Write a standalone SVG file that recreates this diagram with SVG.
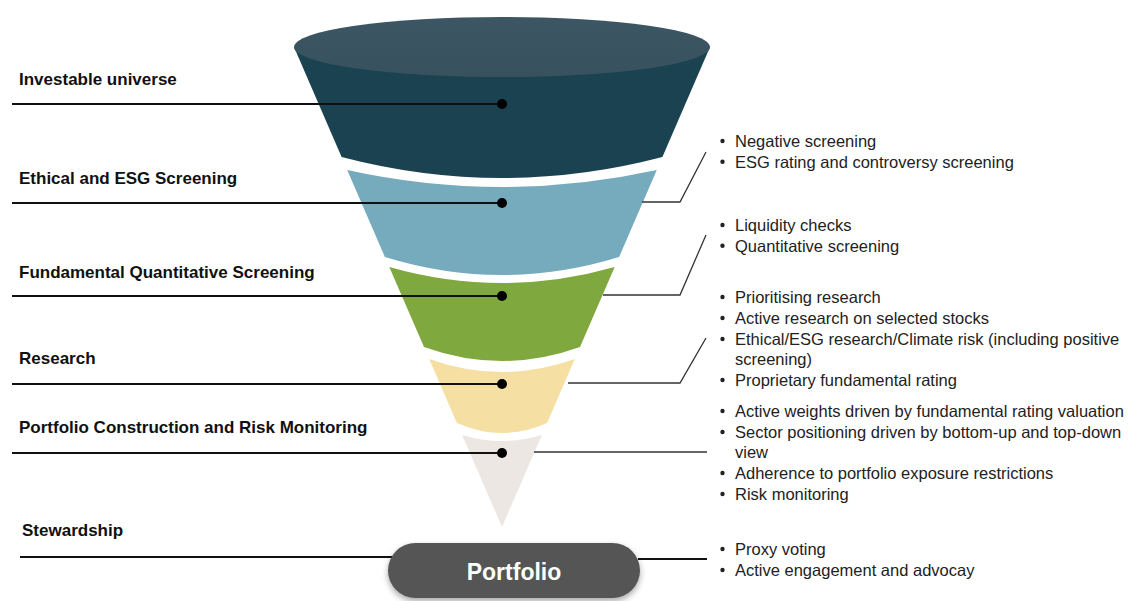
<svg xmlns="http://www.w3.org/2000/svg" width="1137" height="601" viewBox="0 0 1137 601">
<style>
.lbl{font-family:"Liberation Sans",Arial,sans-serif;font-weight:bold;font-size:17px;fill:#111}
.txt{font-family:"Liberation Sans",Arial,sans-serif;font-size:16.5px;fill:#222}
.ln{stroke:#111;stroke-width:2;fill:none}
.rl{stroke:#333;stroke-width:1.3;fill:none}
.dot{fill:#000}
.bul{fill:#222}
</style>
<defs>
<filter id="sh" x="-10%" y="-20%" width="120%" height="160%">
<feDropShadow dx="0" dy="3" stdDeviation="3" flood-color="#000" flood-opacity="0.35"/>
</filter>
<linearGradient id="cap" x1="0" y1="0" x2="0" y2="1">
<stop offset="0" stop-color="#3d5663"/>
<stop offset="1" stop-color="#37515e"/>
</linearGradient>
</defs>
<rect width="1137" height="601" fill="#fff"/>

<g id="funnel">
<g id="band-investable">
<path d="M294,47 L341.6,157 Q502,199 662.4,157 L710,47 Z" fill="#1b4250"/>
<ellipse cx="502" cy="47" rx="208" ry="30" fill="url(#cap)"/>
</g>
<g id="band-ethical">
<path d="M347.2,170 L384.9,257 Q502,293 619.1,257 L656.8,170 Q502,204 347.2,170 Z" fill="#75abbd"/>
</g>
<g id="band-fundamental">
<path d="M389.3,267 L424,347 Q502,375 580,347 L614.7,267 Q502,299 389.3,267 Z" fill="#7fa83e"/>
</g>
<g id="band-research">
<path d="M429.2,359 L456.9,423 Q502,443 547.1,423 L574.8,359 Q502,385 429.2,359 Z" fill="#f5dfa3"/>
</g>
<g id="band-portfolio-construction">
<path d="M462.1,435 L502,527 L541.9,435 Q502,447 462.1,435 Z" fill="#ede7e4"/>
</g>
</g>

<g id="connectors">
<line class="ln" x1="12" y1="104" x2="502" y2="104"/>
<line class="ln" x1="12" y1="203" x2="502" y2="203"/>
<line class="ln" x1="12" y1="296" x2="502" y2="296"/>
<line class="ln" x1="12" y1="384" x2="502" y2="384"/>
<line class="ln" x1="12" y1="453" x2="502" y2="453"/>
<line class="ln" x1="20" y1="557" x2="392" y2="557"/>
<circle class="dot" cx="502" cy="104" r="5"/>
<circle class="dot" cx="502" cy="203" r="5"/>
<circle class="dot" cx="502" cy="296" r="5"/>
<circle class="dot" cx="502" cy="384" r="5"/>
<circle class="dot" cx="502" cy="453" r="5"/>
<polyline class="rl" points="642,202 680,202 706,152"/>
<polyline class="rl" points="603,295 680,295 706,235"/>
<polyline class="rl" points="568,383 680,383 706,338"/>
<polyline class="rl" points="534,452 707,452"/>
<line class="ln" x1="638" y1="559" x2="707" y2="559"/>
</g>

<g id="portfolio">
<rect x="388" y="543" width="252" height="55" rx="27.5" fill="#555555" filter="url(#sh)"/>
<text x="514" y="580" text-anchor="middle" font-family="'Liberation Sans',Arial,sans-serif" font-weight="bold" font-size="23" fill="#fff">Portfolio</text>
</g>

<g id="labels">
<text class="lbl" x="19" y="85">Investable universe</text>
<text class="lbl" x="19" y="184">Ethical and ESG Screening</text>
<text class="lbl" x="19" y="278">Fundamental Quantitative Screening</text>
<text class="lbl" x="19" y="364">Research</text>
<text class="lbl" x="19" y="433">Portfolio Construction and Risk Monitoring</text>
<text class="lbl" x="22" y="536">Stewardship</text>
</g>

<g id="details">
<g id="d-ethical">
<circle class="bul" cx="722.5" cy="141" r="2.2"/>
<circle class="bul" cx="722.5" cy="161.7" r="2.2"/>
<text class="txt" x="735" y="147">Negative screening</text>
<text class="txt" x="735" y="167.7">ESG rating and controversy screening</text>
</g>
<g id="d-fundamental">
<circle class="bul" cx="722.5" cy="225" r="2.2"/>
<circle class="bul" cx="722.5" cy="245.7" r="2.2"/>
<text class="txt" x="735" y="231">Liquidity checks</text>
<text class="txt" x="735" y="251.7">Quantitative screening</text>
</g>
<g id="d-research">
<circle class="bul" cx="722.5" cy="297" r="2.2"/>
<circle class="bul" cx="722.5" cy="318" r="2.2"/>
<circle class="bul" cx="722.5" cy="339" r="2.2"/>
<circle class="bul" cx="722.5" cy="380" r="2.2"/>
<text class="txt" x="735" y="303">Prioritising research</text>
<text class="txt" x="735" y="324">Active research on selected stocks</text>
<text class="txt" x="735" y="345">Ethical/ESG research/Climate risk (including positive</text>
<text class="txt" x="735" y="365">screening)</text>
<text class="txt" x="735" y="386">Proprietary fundamental rating</text>
</g>
<g id="d-construction">
<circle class="bul" cx="722.5" cy="411" r="2.2"/>
<circle class="bul" cx="722.5" cy="432" r="2.2"/>
<circle class="bul" cx="722.5" cy="473" r="2.2"/>
<circle class="bul" cx="722.5" cy="494" r="2.2"/>
<text class="txt" x="735" y="417">Active weights driven by fundamental rating valuation</text>
<text class="txt" x="735" y="438">Sector positioning driven by bottom-up and top-down</text>
<text class="txt" x="735" y="458">view</text>
<text class="txt" x="735" y="479">Adherence to portfolio exposure restrictions</text>
<text class="txt" x="735" y="500">Risk monitoring</text>
</g>
<g id="d-stewardship">
<circle class="bul" cx="722.5" cy="549" r="2.2"/>
<circle class="bul" cx="722.5" cy="570" r="2.2"/>
<text class="txt" x="735" y="555">Proxy voting</text>
<text class="txt" x="735" y="576">Active engagement and advocay</text>
</g>
</g>
</svg>
